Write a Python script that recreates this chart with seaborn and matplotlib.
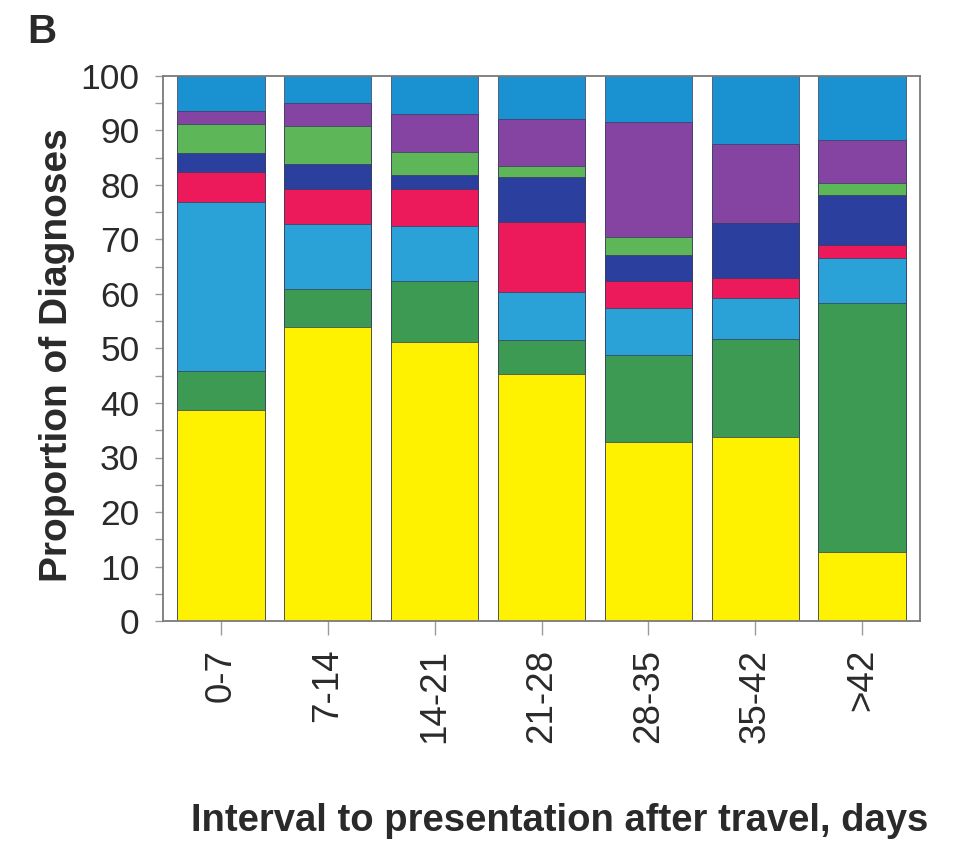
import numpy as np
import pandas as pd
import matplotlib
matplotlib.use("Agg")
import matplotlib.pyplot as plt
import seaborn as sns
from matplotlib.ticker import MultipleLocator

# Interval after travel (days) and share of diagnoses (%) per group, bottom to top
intervals = ["0-7", "7-14", "14-21", "21-28", "28-35", "35-42", ">42"]
seg_yellow = [38.7, 54.0, 51.2, 45.3, 32.9, 33.8, 12.7]
seg_green = [7.2, 7.0, 11.1, 6.3, 15.9, 17.9, 45.6]
seg_skyblue = [31.0, 11.8, 10.1, 8.8, 8.6, 7.5, 8.3]
seg_red = [5.5, 6.4, 6.8, 12.9, 4.9, 3.7, 2.4]
seg_navy = [3.5, 4.7, 2.6, 8.2, 4.9, 10.2, 9.2]
seg_lightgreen = [5.3, 7.0, 4.3, 2.0, 3.3, 0.0, 2.1]
seg_purple = [2.3, 4.1, 7.0, 8.7, 21.1, 14.5, 8.0]
seg_topblue = [6.5, 5.0, 6.9, 7.8, 8.4, 12.4, 11.7]

segments = [seg_yellow, seg_green, seg_skyblue, seg_red, seg_navy,
            seg_lightgreen, seg_purple, seg_topblue]
colors = ["#fff200", "#3d9a52", "#2aa2d8", "#ec1a5a", "#2b3f9e",
          "#5db657", "#8544a1", "#1a92d2"]

sns.set_style("white")
plt.rcParams["font.family"] = ["Liberation Sans", "DejaVu Sans"]

fig = plt.figure(figsize=(9.66, 8.44), dpi=100)
W, H = 966, 844
ax = fig.add_axes([163 / W, 1 - 621 / H, (920 - 163) / W, (621 - 76) / H])

# Stacked bars: draw cumulative totals from the top group down so lower
# groups cover the upper ones.
cum = np.cumsum(np.array(segments), axis=0)
for level in range(len(segments) - 1, -1, -1):
    df = pd.DataFrame({"interval": intervals, "cum": cum[level]})
    sns.barplot(data=df, x="interval", y="cum", color=colors[level],
                width=0.82, errorbar=None, saturation=1, ax=ax,
                edgecolor="#3a3a5a", linewidth=0.5)

ax.set_ylim(0, 100)
ax.set_xlim(-0.54, 6.54)
ax.yaxis.set_major_locator(MultipleLocator(10))
ax.yaxis.set_minor_locator(MultipleLocator(5))

txt = "#2a2a2a"
ax.tick_params(axis="y", which="both", direction="out", left=True,
               length=6, width=1, color="#9a9a9a", pad=11,
               labelsize=25.5, labelcolor=txt)
ax.tick_params(axis="x", direction="out", bottom=True, length=10, width=1,
               color="#9a9a9a", pad=10, labelsize=26.5, labelcolor=txt)
for lab in ax.get_xticklabels():
    lab.set_rotation(90)

for sp in ax.spines.values():
    sp.set_visible(True)
    sp.set_color("#7a7a7a")
    sp.set_linewidth(1.3)

ax.set_xlabel("")
ax.set_ylabel("Proportion of Diagnoses", fontsize=28, fontweight="bold",
              color=txt)
ax.yaxis.set_label_coords(-0.116, 0.487)

fig.text(560 / W, 1 - 831 / H, "Interval to presentation after travel, days",
         ha="center", va="baseline", fontsize=27.5, fontweight="bold", color=txt)
fig.text(27 / W, 1 - 43 / H, "B", ha="left", va="baseline", fontsize=29,
         fontweight="bold", color=txt)

fig.savefig("out.png", dpi=100, facecolor="white")
